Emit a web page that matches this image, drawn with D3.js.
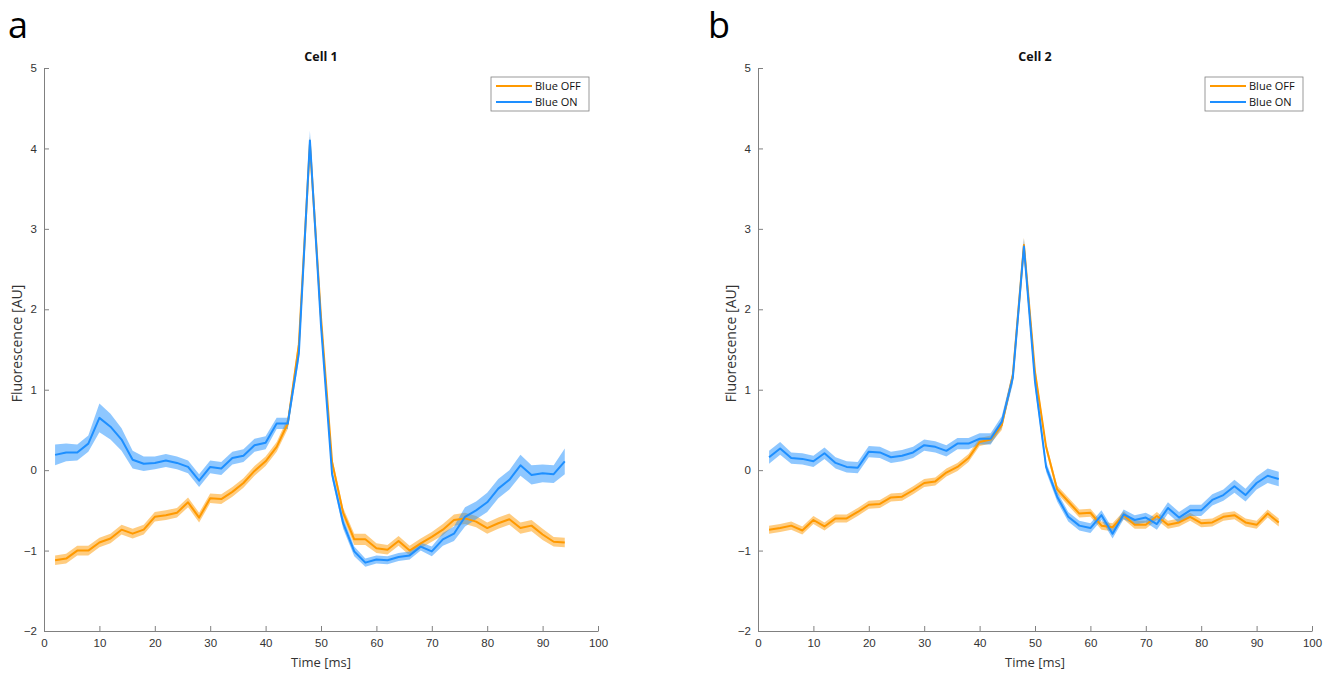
<!DOCTYPE html>
<html>
<head>
<meta charset="utf-8">
<script src="https://cdn.jsdelivr.net/npm/d3@7"></script>
<style>
  body { margin: 0; background: #fff; }
  svg { font-family: "Open Sans", sans-serif; }
  .tick text { fill: #333; font-size: 11.5px; }
  .tick line, .domain { stroke: #808080; }
</style>
</head>
<body>
<div id="chart"></div>
<script>
// time points (ms)
const time = [2, 4, 6, 8, 10, 12, 14, 16, 18, 20, 22, 24, 26, 28, 30, 32, 34, 36, 38, 40, 42, 44,
  46, 48, 50, 52, 54, 56, 58, 60, 62, 64, 66, 68, 70, 72, 74, 76, 78, 80, 82, 84, 86, 88, 90, 92, 94];

// Cell 1
const cell1Off = [-1.12, -1.10, -1.00, -1.00, -0.90, -0.85, -0.74, -0.79, -0.74, -0.58, -0.56, -0.53, -0.40, -0.59,
  -0.35, -0.36, -0.27, -0.16, -0.01, 0.11, 0.29, 0.58, 1.56, 4.05, 1.90, 0.10, -0.53, -0.86, -0.86, -0.97, -0.99,
  -0.88, -1.00, -0.91, -0.83, -0.74, -0.62, -0.60, -0.64, -0.72, -0.66, -0.61, -0.72, -0.69, -0.80, -0.89, -0.90];
const cell1OffErr = [0.06, 0.06, 0.06, 0.06, 0.06, 0.06, 0.06, 0.06, 0.06, 0.06, 0.06, 0.06, 0.06, 0.06,
  0.06, 0.06, 0.06, 0.06, 0.06, 0.06, 0.06, 0.07, 0.08, 0.10, 0.08, 0.06, 0.06, 0.07, 0.07, 0.06, 0.06,
  0.06, 0.06, 0.06, 0.06, 0.07, 0.07, 0.07, 0.07, 0.07, 0.07, 0.07, 0.07, 0.07, 0.07, 0.06, 0.06];
const cell1On = [0.19, 0.22, 0.22, 0.33, 0.65, 0.54, 0.38, 0.13, 0.08, 0.09, 0.12, 0.09, 0.04, -0.13,
  0.04, 0.02, 0.15, 0.18, 0.31, 0.34, 0.58, 0.58, 1.45, 4.10, 1.80, -0.05, -0.66, -1.01, -1.15, -1.11, -1.12,
  -1.08, -1.06, -0.95, -1.01, -0.86, -0.79, -0.58, -0.50, -0.40, -0.23, -0.12, 0.06, -0.06, -0.04, -0.05, 0.11];
const cell1OnErr = [0.13, 0.11, 0.10, 0.10, 0.18, 0.16, 0.14, 0.11, 0.09, 0.08, 0.08, 0.08, 0.08, 0.08,
  0.08, 0.08, 0.08, 0.08, 0.08, 0.08, 0.07, 0.07, 0.08, 0.12, 0.08, 0.06, 0.07, 0.06, 0.05, 0.05, 0.05,
  0.05, 0.05, 0.05, 0.06, 0.08, 0.09, 0.12, 0.11, 0.12, 0.12, 0.12, 0.13, 0.12, 0.11, 0.11, 0.16];

// Cell 2
const cell2Off = [-0.74, -0.72, -0.69, -0.75, -0.62, -0.70, -0.60, -0.60, -0.52, -0.43, -0.42, -0.34, -0.33, -0.25,
  -0.16, -0.14, -0.03, 0.04, 0.15, 0.35, 0.38, 0.56, 1.18, 2.80, 1.22, 0.29, -0.24, -0.39, -0.54, -0.53, -0.69,
  -0.71, -0.56, -0.68, -0.68, -0.57, -0.68, -0.65, -0.58, -0.66, -0.65, -0.58, -0.56, -0.65, -0.68, -0.54, -0.65];
const cell2OffErr = [0.05, 0.05, 0.05, 0.05, 0.05, 0.05, 0.05, 0.05, 0.05, 0.05, 0.05, 0.05, 0.05, 0.05,
  0.05, 0.05, 0.05, 0.05, 0.05, 0.05, 0.05, 0.06, 0.07, 0.09, 0.07, 0.05, 0.05, 0.05, 0.05, 0.05, 0.05,
  0.05, 0.05, 0.05, 0.05, 0.05, 0.05, 0.05, 0.05, 0.05, 0.05, 0.05, 0.05, 0.05, 0.05, 0.05, 0.05];
const cell2On = [0.16, 0.27, 0.15, 0.14, 0.11, 0.21, 0.09, 0.04, 0.03, 0.23, 0.22, 0.16, 0.18, 0.22,
  0.31, 0.29, 0.24, 0.33, 0.33, 0.39, 0.39, 0.60, 1.15, 2.78, 1.10, 0.04, -0.33, -0.58, -0.69, -0.72, -0.56,
  -0.79, -0.55, -0.62, -0.59, -0.67, -0.47, -0.59, -0.50, -0.50, -0.37, -0.31, -0.20, -0.31, -0.16, -0.07, -0.11];
const cell2OnErr = [0.08, 0.08, 0.07, 0.07, 0.07, 0.07, 0.07, 0.07, 0.07, 0.07, 0.07, 0.07, 0.07, 0.07,
  0.07, 0.07, 0.07, 0.07, 0.07, 0.07, 0.07, 0.07, 0.08, 0.10, 0.08, 0.06, 0.06, 0.06, 0.06, 0.06, 0.06,
  0.06, 0.06, 0.06, 0.06, 0.07, 0.07, 0.07, 0.07, 0.07, 0.07, 0.07, 0.08, 0.08, 0.08, 0.09, 0.09];

const xTicks = [0, 10, 20, 30, 40, 50, 60, 70, 80, 90, 100];
const yTicks = [-2, -1, 0, 1, 2, 3, 4, 5];
const seriesNames = ["Blue OFF", "Blue ON"];
const seriesColors = ["#ff9900", "#1e8fff"];

const panels = [
  {letter: "a", letterX: 8, title: "Cell 1", left: 44, series: [[cell1Off, cell1OffErr], [cell1On, cell1OnErr]]},
  {letter: "b", letterX: 708, title: "Cell 2", left: 758, series: [[cell2Off, cell2OffErr], [cell2On, cell2OnErr]]}
];

const svg = d3.select("#chart").append("svg")
  .attr("width", 1336)
  .attr("height", 673);

const width = 554;
const plotTop = 68;
const height = 563;

panels.forEach((p) => {
  const g = svg.append("g")
    .attr("transform", "translate(" + p.left + "," + plotTop + ")");

  const x = d3.scaleLinear().domain([0, 100]).range([0, width]);
  const y = d3.scaleLinear().domain([-2, 5]).range([height, 0]);

  const area = d3.area()
    .x((d, i) => x(time[i]))
    .y0((d) => y(d[0] - d[1]))
    .y1((d) => y(d[0] + d[1]));

  const line = d3.line()
    .x((d, i) => x(time[i]))
    .y((d) => y(d));

  p.series.forEach((s, k) => {
    g.append("path")
      .datum(s[0].map((v, i) => [v, s[1][i]]))
      .attr("fill", seriesColors[k])
      .attr("fill-opacity", 0.5)
      .attr("d", area);
  });
  p.series.forEach((s, k) => {
    g.append("path")
      .datum(s[0])
      .attr("fill", "none")
      .attr("stroke", seriesColors[k])
      .attr("stroke-width", 2)
      .attr("stroke-linejoin", "round")
      .attr("d", line);
  });

  g.append("g")
    .attr("transform", "translate(0," + height + ")")
    .call(d3.axisBottom(x).tickValues(xTicks).tickSizeInner(-5).tickSizeOuter(0).tickPadding(8))
    .call((a) => a.selectAll(".tick line").attr("stroke", "#808080"));

  g.append("g")
    .call(d3.axisLeft(y).tickValues(yTicks).tickFormat(d3.format("d"))
      .tickSizeInner(-5).tickSizeOuter(0).tickPadding(7))
    .call((a) => a.selectAll(".tick line").attr("stroke", "#808080"));

  g.append("text")
    .attr("x", width / 2)
    .attr("y", -7)
    .attr("text-anchor", "middle")
    .attr("font-weight", "bold")
    .attr("font-size", 12.5)
    .attr("fill", "#111")
    .text(p.title);

  g.append("text")
    .attr("x", width / 2)
    .attr("y", height + 36)
    .attr("text-anchor", "middle")
    .attr("font-size", 13)
    .attr("fill", "#333")
    .text("Time [ms]");

  g.append("text")
    .attr("transform", "translate(-22," + (height / 2 - 6) + ") rotate(-90)")
    .attr("text-anchor", "middle")
    .attr("font-size", 14)
    .attr("fill", "#333")
    .text("Fluorescence [AU]");

  svg.append("text")
    .attr("x", p.letterX)
    .attr("y", 38)
    .attr("font-size", 36)
    .attr("fill", "#000")
    .text(p.letter);

  // legend
  const lg = g.append("g")
    .attr("transform", "translate(" + (width - 107) + ",9)");
  lg.append("rect")
    .attr("width", 98)
    .attr("height", 34)
    .attr("fill", "#fff")
    .attr("stroke", "#808080")
    .attr("stroke-width", 0.8);
  seriesNames.forEach((name, k) => {
    lg.append("line")
      .attr("x1", 5).attr("x2", 41)
      .attr("y1", 9 + k * 16).attr("y2", 9 + k * 16)
      .attr("stroke", seriesColors[k])
      .attr("stroke-width", 2);
    lg.append("text")
      .attr("x", 44)
      .attr("y", 13 + k * 16)
      .attr("font-size", 11)
      .attr("fill", "#111")
      .text(name);
  });
});
</script>
</body>
</html>
